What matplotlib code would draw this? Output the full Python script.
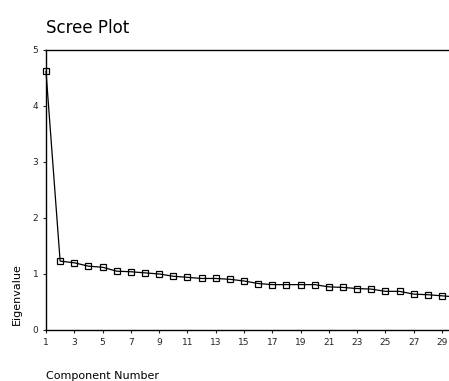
import matplotlib
matplotlib.use("Agg")
import matplotlib.pyplot as plt
import numpy as np

components = list(range(1, 31))
eigenvalues = [4.62, 1.23, 1.20, 1.14, 1.12, 1.05, 1.04, 1.02, 1.00, 0.96,
               0.94, 0.92, 0.92, 0.905, 0.875, 0.83, 0.81, 0.81, 0.81, 0.81,
               0.77, 0.76, 0.74, 0.73, 0.69, 0.69, 0.64, 0.63, 0.61, 0.59]
xtick_vals = list(range(1, 30, 2))
ytick_vals = [0, 1, 2, 3, 4, 5]

fig = plt.figure(figsize=(4.49, 3.81), dpi=100)
ax = fig.add_axes([0.1024, 0.1339, 0.8976, 0.7349])

# line clipped at the right edge of the figure anyway, markers stay whole at x=1
ax.plot(components, eigenvalues, color='black', linewidth=0.9,
        marker='s', markersize=5, markerfacecolor='none',
        markeredgecolor='black', markeredgewidth=0.9, clip_on=False)

ax.set_xlim(1, 29.5)
ax.set_ylim(0, 5)
ax.set_xticks(xtick_vals)
ax.set_yticks(ytick_vals)
ax.tick_params(axis='both', labelsize=6.5, length=2.5, width=0.8,
               direction='out', pad=3, colors='#222222')

ax.spines['right'].set_visible(False)
for s in ['left', 'bottom', 'top']:
    ax.spines[s].set_linewidth(1.0)
    ax.spines[s].set_color('black')

fig.text(0.1024, 1 - 33 / 381, 'Scree Plot', fontsize=12, ha='left', va='baseline')
fig.text(0.1024, 1 - 376 / 381, 'Component Number', fontsize=8, ha='left', va='center')
fig.text(17 / 449, 1 - 294 / 381, 'Eigenvalue', fontsize=8, rotation=90,
         ha='center', va='center')

fig.savefig('out.png', dpi=100)
